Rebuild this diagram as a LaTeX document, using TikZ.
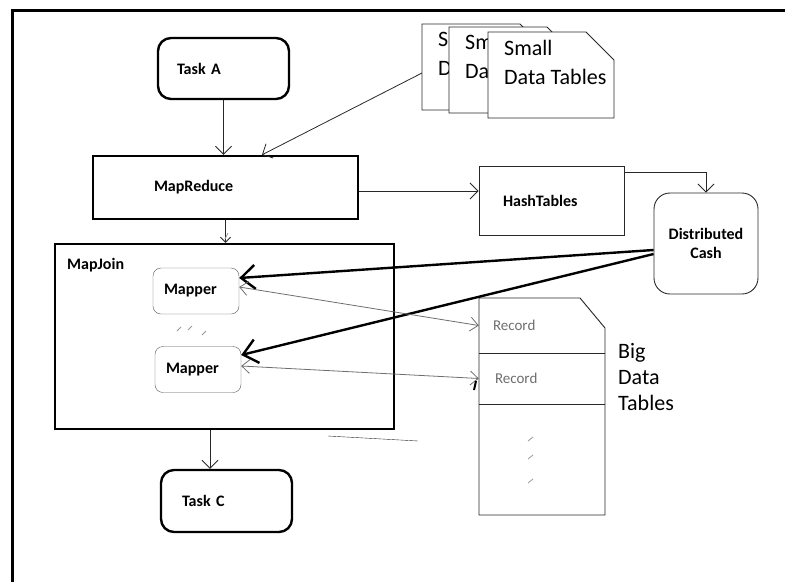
\documentclass[tikz,border=0pt]{standalone}
\usepackage{fontspec}
\setmainfont{Carlito}
\usetikzlibrary{arrows.meta,positioning}
\definecolor{ink}{RGB}{40,40,40}
\definecolor{pen}{RGB}{110,110,110}

\begin{document}
\begin{tikzpicture}[x=1pt, y=-1pt,
  every node/.style={font=\fontsize{16}{19}\selectfont\bfseries, inner ysep=0pt},
  task/.style={draw, line width=2.4pt, rounded corners=13pt, align=left, minimum height=61pt},
  block/.style={draw, line width=2.4pt, align=left},
  mapper/.style={draw=pen!80!black, rounded corners=8pt, align=left, minimum height=46pt, text width=64pt, inner xsep=11pt},
  hashbox/.style={draw=ink, line width=0.9pt, align=left},
  cashbox/.style={draw=ink, line width=0.9pt, rounded corners=16pt, align=center, minimum width=104pt, minimum height=101pt},
  rec/.style={font=\fontsize{15}{18}\selectfont, text=pen, align=left, text width=98pt, inner xsep=14pt},
  doc/.style={draw=ink, fill=white, line width=0.9pt},
  big/.style={font=\fontsize{22}{26}\selectfont, align=left, inner sep=0pt},
  arr/.style={-{Straight Barb[length=8pt, width=16pt]}, draw=ink, line width=0.8pt},
  link/.style={{Straight Barb[length=8pt, width=14pt]}-{Straight Barb[length=8pt, width=14pt]}, draw=pen, line width=0.8pt},
  fat/.style={-{Straight Barb[length=14pt, width=24pt]}, line width=2.4pt},
  speck/.style={draw=pen!70, line width=0.8pt}]
\useasboundingbox (0,0) rectangle (785,582);
\draw[line width=3pt] (12,582) -- (12,10) -- (785,10);

\node[task, text width=93pt, inner xsep=19pt] (taskA) at (223.5,68.5) {Task A};
\node[block, minimum height=63pt, text width=143pt, inner xsep=61pt] (mapreduce) at (225.5,187.5) {MapReduce};
\node[block, minimum width=339pt, minimum height=185pt] (mapjoin) at (224.5,336.5) {};
\node[anchor=base west, inner sep=0pt] (mjlabel) at (67,269) {MapJoin};
\node[mapper] (mapper1) at (196,291) {Mapper};
\node[mapper] (mapper2) at (198,369.5) {Mapper};
\node[task, text width=89pt, inner xsep=21pt, minimum height=62pt] (taskC) at (226.5,501) {Task C};
\node[hashbox, minimum height=69pt, text width=97pt, inner xsep=24pt] (hash) at (551.5,200.5) {HashTables};
\node[cashbox] (cash) at (706,243.5) {Distributed\\Cash};

% small tables, each one half hidden by the next
\coordinate (smallin) at (422,73);
\draw[arr] (smallin) -- ([xshift=36.5pt]mapreduce.north);
\foreach \n/\x/\y/\txt in {1/422/24/S\\D, 2/449/27/Sm\\Da, 3/488/32/Small\\Data Tables}{
  \filldraw[doc] (\x,\y) -- ++(98,0) -- ++(28,28) -- ++(0,58) -- ++(-126,0) -- cycle;
  \node[big, font=\fontsize{22}{29}\selectfont, anchor=north west] (small\n) at (\x+16,\y+8) {\txt};
}

% big table
\draw[draw=ink, line width=0.9pt] (479,298) -- (580,298) -- (605,328) -- (605,515) -- (479,515) -- cycle;
\node[rec, minimum height=55pt] (rec1) at (542,325.5) {Record};
\node[rec, minimum height=51pt, inner xsep=16pt, text width=94pt] (rec2) at (542,378.5) {Record};
\draw[draw=ink] (rec1.south west) -- (rec1.south east) (rec2.south west) -- (rec2.south east);
\node[big, anchor=north west] (bigdata) at (618,343) {Big\\Data\\Tables};

\draw[arr] (taskA.south) -- (taskA.south |- mapreduce.north);
\draw[arr, -{Straight Barb[length=5pt, width=10pt]}] (mapreduce.south) -- (mapreduce.south |- mapjoin.north);
\draw[arr] ([xshift=-14.5pt]mapjoin.south) -- ([xshift=-14.5pt]mapjoin.south |- taskC.north);
\draw[arr] ([yshift=-3.5pt]mapreduce.east) -- ([yshift=-3.5pt]mapreduce.east -| hash.west);
\draw[arr] ([yshift=-7pt]hash.north east) -| (cash.north);
\draw[fat] ([yshift=-6.5pt]cash.west) -- ([yshift=13pt]mapper1.east);
\draw[fat] ([yshift=-10.5pt]cash.west) -- ([yshift=14.5pt]mapper2.east);
\draw[link] ([yshift=4pt]mapper1.east) -- (rec1.west);
\draw[link] ([yshift=3.5pt]mapper2.east) -- (rec2.west);

% stray marks
\foreach \x/\y in {177/331, 188/330, 202/335} \draw[speck] (\x,\y) -- ++(4,-4);
\foreach \y in {441, 459, 483} \draw[speck] (528,\y) -- ++(5,-4);
\draw[speck] (225,239) -- ++(3,-6);
\draw[draw=ink] (328,436) -- (418,441);
\draw[line width=2pt] (474,390) -- (476,381);
\end{tikzpicture}
\end{document}
